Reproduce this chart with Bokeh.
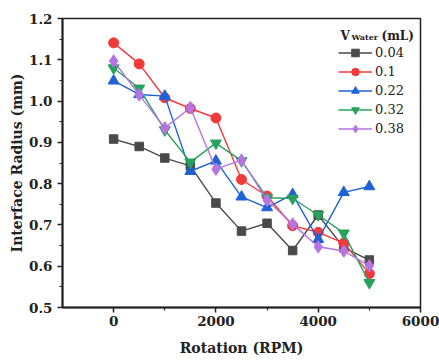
from bokeh.plotting import figure
from bokeh.models import FixedTicker, Legend, LegendItem, Label, Range1d, NumeralTickFormatter
from bokeh.embed import file_html
from bokeh.resources import INLINE

rpm = [0, 500, 1000, 1500, 2000, 2500, 3000, 3500, 4000, 4500, 5000]
r_004 = [0.908, 0.890, 0.862, 0.843, 0.753, 0.685, 0.704, 0.638, 0.724, 0.645, 0.615]
r_010 = [1.141, 1.090, 1.008, 0.982, 0.959, 0.810, 0.770, 0.698, 0.682, 0.656, 0.582]
r_022 = [1.049, 1.016, 1.012, 0.830, 0.855, 0.768, 0.742, 0.774, 0.665, 0.779, 0.793]
r_032 = [1.080, 1.031, 0.930, 0.852, 0.898, 0.855, 0.766, 0.764, 0.724, 0.680, 0.560]
r_038 = [1.097, 1.015, 0.935, 0.984, 0.835, 0.857, 0.760, 0.702, 0.647, 0.637, 0.601]
labels = ["0.04", "0.1", "0.22", "0.32", "0.38"]
x_ticks = [0, 2000, 4000, 6000]
y_ticks = [0.5, 0.6, 0.7, 0.8, 0.9, 1.0, 1.1, 1.2]

series = [r_004, r_010, r_022, r_032, r_038]
colors = ["#4a4a4a", "#f23a3a", "#1f62d8", "#27a25d", "#b674e2"]
markers = ["square", "circle", "triangle", "inverted_triangle", "diamond"]
sizes = [8.5, 10, 11, 11, 12.5]

FONT = "DejaVu Serif"

p = figure(width=439, height=363, output_backend="svg", toolbar_location=None,
           x_range=Range1d(-1000, 6000), y_range=Range1d(0.5, 1.2),
           min_border_left=62, min_border_right=19, min_border_top=18, min_border_bottom=56)
p.xgrid.visible = False
p.ygrid.visible = False
p.outline_line_color = "#222222"
p.outline_line_width = 1.5

items = []
for ys, c, m, s, lab in zip(series, colors, markers, sizes, labels):
    l = p.line(rpm, ys, line_color=c, line_width=1.4)
    sc = p.scatter(rpm, ys, marker=m, size=s, fill_color=c, line_color=c)
    items.append(LegendItem(label=lab, renderers=[l, sc]))

legend = Legend(items=items, location=(276, 169), padding=0, spacing=0,
                glyph_width=34, glyph_height=19, label_height=19, label_standoff=3,
                label_text_font=FONT, label_text_font_size="13px", label_text_color="#222222",
                border_line_alpha=0, background_fill_alpha=0, margin=0)
p.add_layout(legend, "center")

for ax in [p.xaxis[0], p.yaxis[0]]:
    ax.axis_line_width = 2
    ax.axis_line_color = "#222222"
    ax.major_tick_line_color = "#222222"
    ax.minor_tick_line_color = "#222222"
    ax.major_tick_line_width = 1.5
    ax.minor_tick_line_width = 1.2
    ax.major_tick_out = 5
    ax.major_tick_in = 0
    ax.minor_tick_out = 3
    ax.minor_tick_in = 0
    ax.major_label_text_font = FONT
    ax.major_label_text_font_style = "bold"
    ax.major_label_text_font_size = "13.5px"
    ax.major_label_text_color = "#222222"
    ax.axis_label_text_font = FONT
    ax.axis_label_text_font_style = "bold"
    ax.axis_label_text_font_size = "14px"
    ax.axis_label_text_color = "#222222"

p.xaxis.ticker = FixedTicker(ticks=x_ticks, minor_ticks=[1000, 3000, 5000])
p.yaxis.ticker = FixedTicker(ticks=y_ticks, minor_ticks=[0.55, 0.65, 0.75, 0.85, 0.95, 1.05, 1.15])
p.yaxis.formatter = NumeralTickFormatter(format="0.0")
p.xaxis.axis_label = "Rotation (RPM)"
p.yaxis.axis_label = "Interface Radius (mm)"
p.xaxis.major_label_standoff = 3
p.xaxis.axis_label_standoff = 11
p.yaxis.major_label_standoff = 5
p.yaxis.axis_label_standoff = 1

p.add_layout(Label(x=4436, y=1.1588, text="V", text_font=FONT, text_font_style="bold",
                   text_font_size="12px", text_color="#222222", text_baseline="alphabetic"))
p.add_layout(Label(x=4651, y=1.1540, text="Water", text_font=FONT, text_font_style="bold",
                   text_font_size="8px", text_color="#222222", text_baseline="alphabetic"))
p.add_layout(Label(x=5237, y=1.1588, text="(mL)", text_font=FONT, text_font_style="bold",
                   text_font_size="12px", text_color="#222222", text_baseline="alphabetic"))

open("out.html", "w").write(file_html(p, INLINE))
